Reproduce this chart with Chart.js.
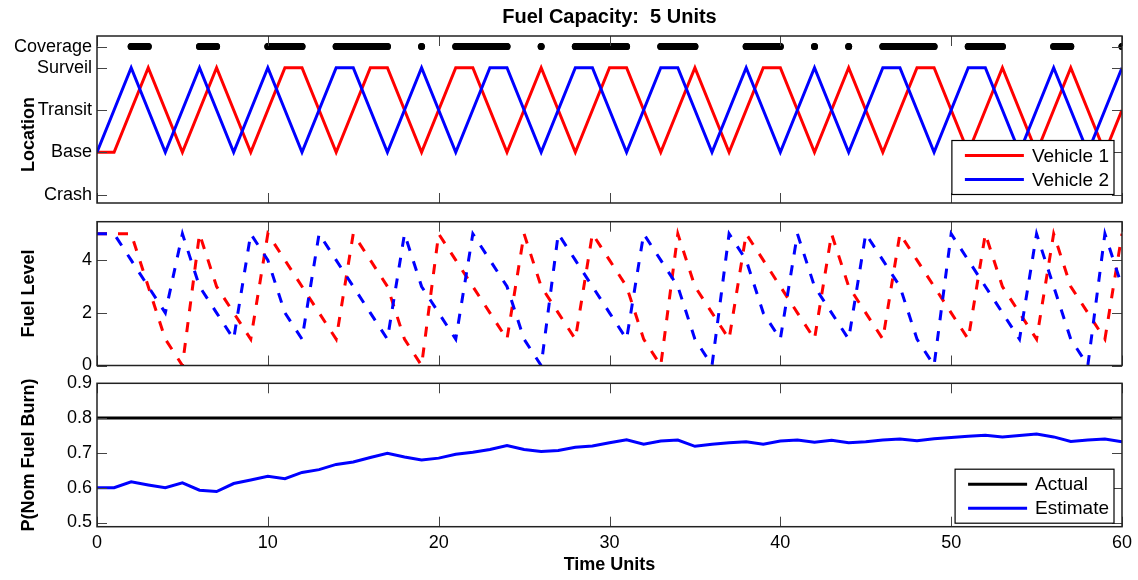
<!DOCTYPE html>
<html>
<head>
<meta charset="utf-8">
<title>Fuel Capacity: 5 Units</title>
<script src="https://cdn.jsdelivr.net/npm/chart.js@4.4.1/dist/chart.umd.min.js"></script>
<style>
  html, body { margin: 0; padding: 0; background: #fff; }
  #wrap { position: relative; width: 1138px; height: 580px; overflow: hidden; }
  canvas { position: absolute; left: 0; }
</style>
</head>
<body>
<div id="wrap">
  <canvas id="locationChart" width="1138" height="210" style="top:0px"></canvas>
  <canvas id="fuelChart" width="1138" height="160" style="top:215px"></canvas>
  <canvas id="probChart" width="1138" height="205" style="top:375px"></canvas>
</div>
<script>
// time axis
const timeSteps = [0,1,2,3,4,5,6,7,8,9,10,11,12,13,14,15,16,17,18,19,20,
  21,22,23,24,25,26,27,28,29,30,31,32,33,34,35,36,37,38,39,40,
  41,42,43,44,45,46,47,48,49,50,51,52,53,54,55,56,57,58,59,60];
const timeTicks = [0, 10, 20, 30, 40, 50, 60];

// location panel (0 = Crash, 1 = Base, 2 = Transit, 3 = Surveil)
const locationTicks = [0, 1, 2, 3, 3.5];
const locationLabels = ["Crash", "Base", "Transit", "Surveil", "Coverage"];
const vehicle1Location = [1,1,2,3,2,1,2,3,2,1,2,3,3,2,1,2,3,3,2,1,2,
  3,3,2,1,2,3,2,1,2,3,3,2,1,2,3,2,1,2,3,3,
  2,1,2,3,2,1,2,3,3,2,1,2,3,2,1,2,3,2,1,2];
const vehicle2Location = [1,2,3,2,1,2,3,2,1,2,3,2,1,2,3,3,2,1,2,3,2,
  1,2,3,3,2,1,2,3,3,2,1,2,3,3,2,1,2,3,2,1,
  2,3,2,1,2,3,3,2,1,2,3,3,2,1,2,3,2,1,2,3];
const coverageTimes = [2,3,6,7,10,11,12,14,15,16,17,19,21,22,23,24,26,
  28,29,30,31,33,34,35,38,39,40,42,44,46,47,48,49,51,52,53,56,57,60];
const coverageLevel = 3.5;

// fuel panel
const fuelTicks = [0, 2, 4];
const vehicle1Fuel = [5,5,5,3,1,0,5,3,2,1,5,4,3,2,1,5,4,3,1,0,5,
  4,3,2,1,5,3,2,1,5,4,3,1,0,5,3,2,1,5,4,3,
  2,1,5,3,2,1,5,4,3,2,1,5,3,2,1,5,3,2,1,5];
const vehicle2Fuel = [5,5,4,3,2,5,3,2,1,5,4,2,1,5,4,3,2,1,5,3,2,
  1,5,4,3,1,0,5,4,3,2,1,5,4,3,1,0,5,4,2,1,
  5,3,2,1,5,4,3,1,0,5,4,3,2,1,5,3,1,0,5,3];

// probability panel
const probTicks = [0.5, 0.6, 0.7, 0.8, 0.9];
const actualTimes = [0, 60];
const actualProb = [0.8, 0.8];
const estimateProb = [0.600,0.600,0.617,0.608,0.600,0.614,0.593,0.589,0.612,0.622,0.633,
  0.626,0.644,0.652,0.667,0.674,0.687,0.699,0.688,0.680,0.685,
  0.696,0.702,0.710,0.721,0.710,0.704,0.707,0.716,0.720,0.729,
  0.738,0.725,0.734,0.737,0.719,0.725,0.729,0.732,0.725,0.734,
  0.737,0.731,0.736,0.729,0.732,0.737,0.740,0.735,0.741,0.744,
  0.748,0.751,0.746,0.750,0.754,0.746,0.733,0.737,0.740,0.732];

const FONT = '"Liberation Sans", Arial, Helvetica, sans-serif';
const TICK_SIZE = 18;
const LABEL_SIZE = 18;
Chart.defaults.font.family = FONT;
Chart.defaults.color = "#000";

const toPoints = (xs, ys) => xs.map((x, i) => ({ x: x, y: ys[i] }));

// box + inward ticks like the original figure
const matlabAxes = {
    id: "matlabAxes",
    afterDatasetsDraw(chart, args, opts) {
        const { ctx, chartArea: a, scales } = chart;
        ctx.save();
        ctx.strokeStyle = "#444";
        ctx.lineWidth = 1;
        ctx.beginPath();
        timeTicks.forEach(v => {
            const px = Math.round(scales.x.getPixelForValue(v)) + 0.5;
            ctx.moveTo(px, a.bottom); ctx.lineTo(px, a.bottom - 10);
            ctx.moveTo(px, a.top); ctx.lineTo(px, a.top + 10);
        });
        opts.yTicks.forEach(v => {
            const py = Math.round(scales.y.getPixelForValue(v)) + 0.5;
            ctx.moveTo(a.left, py); ctx.lineTo(a.left + 10, py);
            ctx.moveTo(a.right, py); ctx.lineTo(a.right - 10, py);
        });
        ctx.stroke();
        ctx.strokeStyle = "#222";
        ctx.lineWidth = 1.5;
        ctx.strokeRect(a.left, a.top, a.right - a.left, a.bottom - a.top);
        ctx.restore();
    }
};

// legend box inside the plot, bottom right
const boxLegend = {
    id: "boxLegend",
    afterDraw(chart, args, opts) {
        if (!opts.show) return;
        const { ctx, chartArea: a } = chart;
        const items = chart.data.datasets.filter(d => d.label);
        ctx.save();
        ctx.font = "19px " + FONT;
        const textW = Math.max(...items.map(d => ctx.measureText(d.label).width));
        const rowH = 24, padY = 15, padL = 13, lineLen = 59, gap = 8, padR = 5;
        const w = padL + lineLen + gap + textW + padR;
        const h = padY * 2 + rowH * (items.length - 1);
        const right = a.right - 8;
        const bottom = a.bottom - opts.bottomGap;
        const left = right - w, top = bottom - h;
        ctx.fillStyle = "#fff";
        ctx.fillRect(left, top, w, h);
        ctx.strokeStyle = "#000";
        ctx.lineWidth = 1.2;
        ctx.strokeRect(left, top, w, h);
        items.forEach((d, i) => {
            const y = top + padY + i * rowH;
            ctx.strokeStyle = d.borderColor;
            ctx.lineWidth = 3;
            ctx.setLineDash([]);
            ctx.beginPath();
            ctx.moveTo(left + padL, y);
            ctx.lineTo(left + padL + lineLen, y);
            ctx.stroke();
            ctx.fillStyle = "#000";
            ctx.textBaseline = "middle";
            ctx.textAlign = "left";
            ctx.fillText(d.label, left + padL + lineLen + gap, y + 1);
        });
        ctx.restore();
    }
};

// no extra room for overhanging tick labels: the panels are placed by hand
function noOverhang(s) {
    s.paddingTop = 0;
    s.paddingBottom = 0;
    s.paddingLeft = 0;
    s.paddingRight = 0;
}

function yAxis(min, max, ticks, labels, title) {
    return {
        type: "linear",
        min: min,
        max: max,
        afterFit: s => { s.width = 97; noOverhang(s); },
        afterBuildTicks: s => { s.ticks = ticks.map(v => ({ value: v })); },
        grid: { display: false, drawTicks: false },
        border: { display: false },
        ticks: {
            autoSkip: false,
            padding: 5,
            font: { size: TICK_SIZE },
            color: "#000",
            callback: (v, i) => labels[i]
        },
        title: {
            display: true,
            text: title,
            font: { size: LABEL_SIZE, weight: "bold" },
            color: "#000",
            padding: { top: 18, bottom: 0 }
        }
    };
}

const hiddenX = { type: "linear", min: 0, max: 60, display: false };

// top panel: location
new Chart(document.getElementById("locationChart"), {
    type: "line",
    data: {
        datasets: [
            {
                label: "Vehicle 1",
                data: toPoints(timeSteps, vehicle1Location),
                borderColor: "#ff0000",
                borderWidth: 3,
                pointRadius: 0,
                order: 2
            },
            {
                label: "Vehicle 2",
                data: toPoints(timeSteps, vehicle2Location),
                borderColor: "#0000ff",
                borderWidth: 3,
                pointRadius: 0,
                order: 1
            },
            {
                data: timeSteps.map(t => ({ x: t, y: coverageTimes.includes(t) ? coverageLevel : null })),
                borderColor: "#000",
                backgroundColor: "#000",
                borderWidth: 7,
                borderCapStyle: "round",
                pointRadius: 3.5,
                pointBorderWidth: 0,
                pointBackgroundColor: "#000",
                spanGaps: false,
                order: 0
            }
        ]
    },
    options: {
        responsive: false,
        animation: false,
        layout: { padding: { left: 0, right: 16, top: 0, bottom: 7 } },
        plugins: {
            legend: { display: false },
            tooltip: { enabled: false },
            title: {
                display: true,
                text: "Fuel Capacity:  5 Units",
                fullSize: false,
                color: "#000",
                font: { size: 20, weight: "bold" },
                padding: { top: 5, bottom: 7 }
            },
            matlabAxes: { yTicks: locationTicks },
            boxLegend: { show: true, bottomGap: 8.5 }
        },
        scales: {
            x: hiddenX,
            y: yAxis(-0.2, 3.75, locationTicks, locationLabels, "Location      ")
        }
    },
    plugins: [matlabAxes, boxLegend]
});

// middle panel: fuel level
new Chart(document.getElementById("fuelChart"), {
    type: "line",
    data: {
        datasets: [
            {
                data: toPoints(timeSteps, vehicle1Fuel),
                borderColor: "#ff0000",
                borderWidth: 3,
                borderDash: [10, 11],
                pointRadius: 0,
                order: 2
            },
            {
                data: toPoints(timeSteps, vehicle2Fuel),
                borderColor: "#0000ff",
                borderWidth: 3,
                borderDash: [10, 11],
                pointRadius: 0,
                order: 1
            }
        ]
    },
    options: {
        responsive: false,
        animation: false,
        layout: { padding: { left: 0, right: 16, top: 6.7, bottom: 9.5 } },
        plugins: {
            legend: { display: false },
            tooltip: { enabled: false },
            matlabAxes: { yTicks: fuelTicks },
            boxLegend: { show: false }
        },
        scales: {
            x: hiddenX,
            y: yAxis(0, 5.46, fuelTicks, fuelTicks.map(String), "Fuel Level")
        }
    },
    plugins: [matlabAxes, boxLegend]
});

// bottom panel: probability of nominal fuel burn
new Chart(document.getElementById("probChart"), {
    type: "line",
    data: {
        datasets: [
            {
                label: "Actual",
                data: toPoints(actualTimes, actualProb),
                borderColor: "#000",
                borderWidth: 3,
                pointRadius: 0,
                order: 1
            },
            {
                label: "Estimate",
                data: toPoints(timeSteps, estimateProb),
                borderColor: "#0000ff",
                borderWidth: 3,
                pointRadius: 0,
                order: 2
            }
        ]
    },
    options: {
        responsive: false,
        animation: false,
        layout: { padding: { left: 0, right: 16, top: 8.3, bottom: 0 } },
        plugins: {
            legend: { display: false },
            tooltip: { enabled: false },
            matlabAxes: { yTicks: probTicks },
            boxLegend: { show: true, bottomGap: 3.5 }
        },
        scales: {
            x: {
                type: "linear",
                min: 0,
                max: 60,
                afterFit: s => { s.height = 53.3; noOverhang(s); },
                afterBuildTicks: s => { s.ticks = timeTicks.map(v => ({ value: v })); },
                grid: { display: false, drawTicks: false },
                border: { display: false },
                ticks: { padding: 6, font: { size: TICK_SIZE }, color: "#000", autoSkip: false, maxRotation: 0 },
                title: {
                    display: true,
                    text: "Time Units",
                    font: { size: LABEL_SIZE, weight: "bold" },
                    color: "#000",
                    padding: { top: 0, bottom: 4 }
                }
            },
            y: yAxis(0.488, 0.9, probTicks, probTicks.map(v => v.toFixed(1)), "P(Nom Fuel Burn)")
        }
    },
    plugins: [matlabAxes, boxLegend]
});
</script>
</body>
</html>
